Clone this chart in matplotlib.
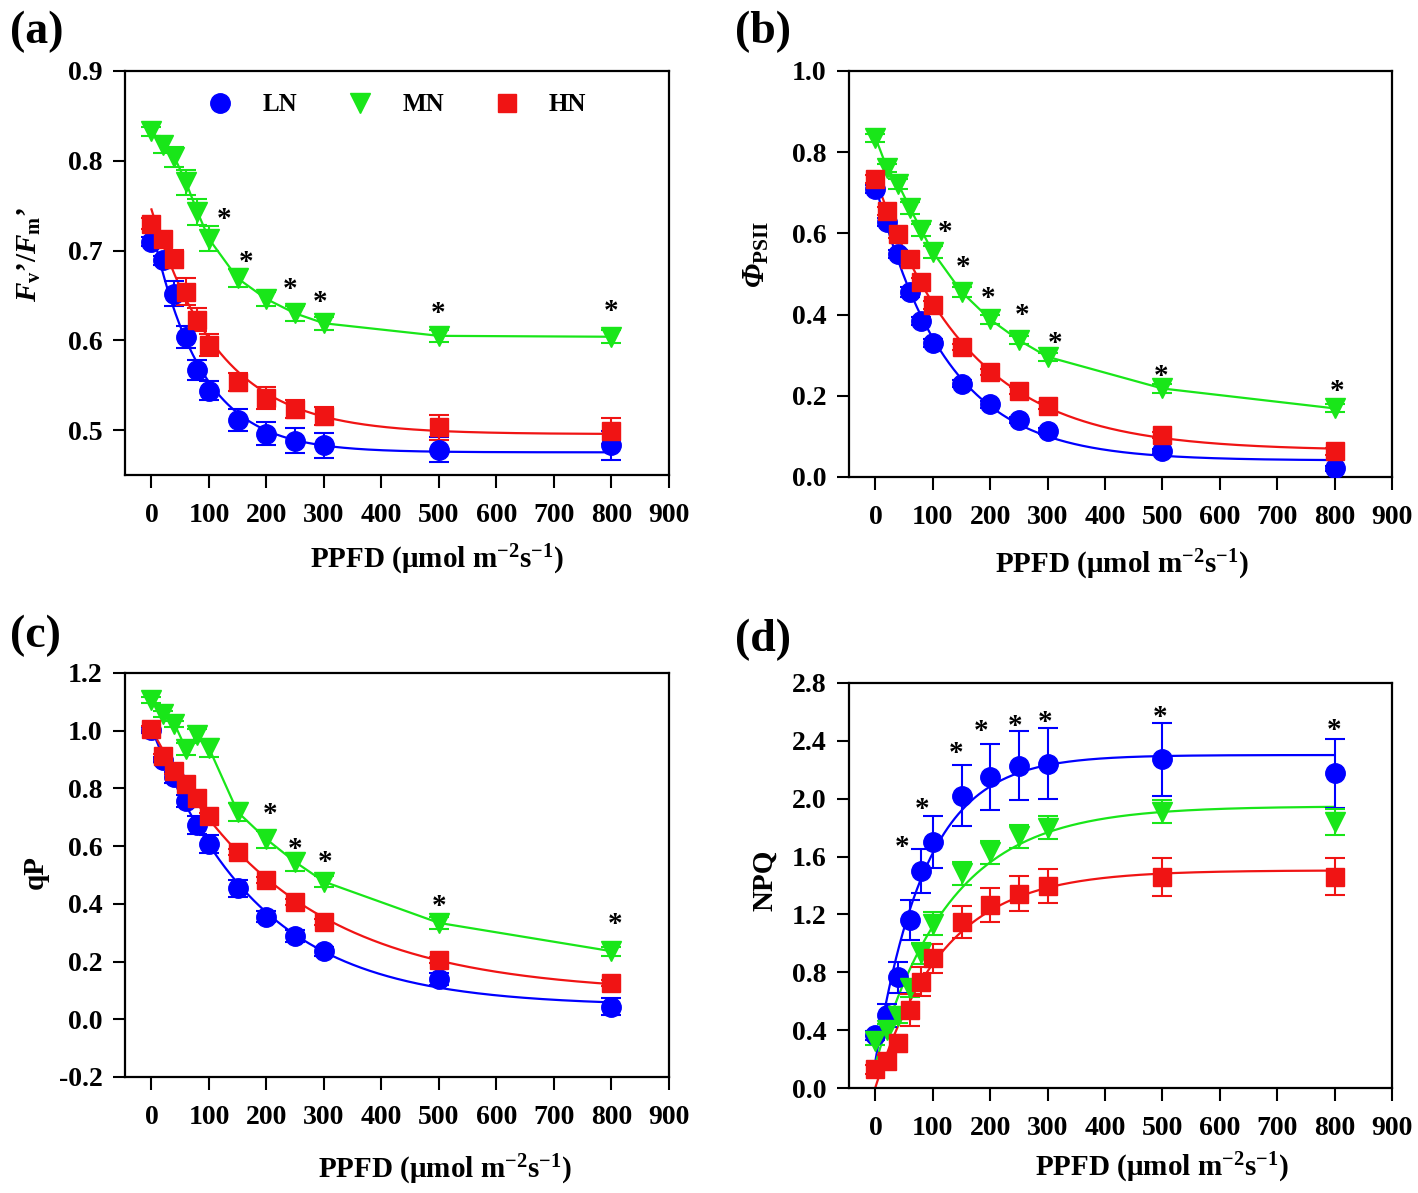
import numpy as np
import matplotlib
matplotlib.use("Agg")
import matplotlib.pyplot as plt
from matplotlib.lines import Line2D

plt.rcParams["font.family"] = ["Liberation Serif", "DejaVu Serif"]
plt.rcParams["font.weight"] = "bold"
plt.rcParams["axes.labelweight"] = "bold"
plt.rcParams["mathtext.fontset"] = "custom"
plt.rcParams["mathtext.rm"] = "Liberation Serif:bold"
plt.rcParams["mathtext.bf"] = "Liberation Serif:bold"
plt.rcParams["mathtext.it"] = "Liberation Serif:italic:bold"
plt.rcParams["mathtext.default"] = "regular"

# PPFD levels (umol m-2 s-1)
ppfd = np.array([0, 20, 40, 60, 80, 100, 150, 200, 250, 300, 500, 800])

# (a) Fv'/Fm'
fvfm_ln = [0.710, 0.689, 0.652, 0.604, 0.567, 0.544, 0.511, 0.496, 0.488, 0.483, 0.478, 0.483]
fvfm_mn = [0.833, 0.818, 0.804, 0.776, 0.743, 0.713, 0.669, 0.646, 0.630, 0.619, 0.605, 0.604]
fvfm_hn = [0.730, 0.713, 0.691, 0.654, 0.623, 0.595, 0.554, 0.536, 0.524, 0.516, 0.503, 0.499]
fvfm_ln_err = [0.005, 0.005, 0.014, 0.012, 0.011, 0.011, 0.012, 0.013, 0.014, 0.014, 0.014, 0.016]
fvfm_mn_err = [0.005, 0.009, 0.011, 0.014, 0.014, 0.014, 0.010, 0.008, 0.008, 0.007, 0.007, 0.007]
fvfm_hn_err = [0.006, 0.007, 0.010, 0.015, 0.013, 0.012, 0.010, 0.012, 0.010, 0.010, 0.014, 0.014]
fvfm_star_x = [127, 164, 241, 294, 499, 800]
fvfm_star_y = [0.741, 0.693, 0.6635, 0.649, 0.636, 0.639]

# (b) PhiPSII
phi_ln = [0.710, 0.628, 0.550, 0.456, 0.384, 0.331, 0.230, 0.179, 0.140, 0.113, 0.063, 0.021]
phi_mn = [0.836, 0.762, 0.721, 0.663, 0.608, 0.554, 0.456, 0.388, 0.337, 0.296, 0.218, 0.169]
phi_hn = [0.735, 0.655, 0.598, 0.536, 0.480, 0.423, 0.320, 0.259, 0.213, 0.176, 0.104, 0.063]
phi_ln_err = [0.010, 0.010, 0.010, 0.012, 0.010, 0.010, 0.008, 0.008, 0.008, 0.008, 0.006, 0.006]
phi_mn_err = [0.010, 0.010, 0.012, 0.014, 0.014, 0.014, 0.012, 0.012, 0.010, 0.010, 0.010, 0.010]
phi_hn_err = [0.010, 0.010, 0.010, 0.010, 0.010, 0.010, 0.008, 0.008, 0.008, 0.008, 0.008, 0.008]
phi_star_x = [121, 153, 197, 255, 313, 497, 804]
phi_star_y = [0.616, 0.530, 0.453, 0.411, 0.343, 0.262, 0.225]

# (c) qP
qp_ln = [1.003, 0.900, 0.838, 0.757, 0.673, 0.607, 0.454, 0.356, 0.288, 0.236, 0.139, 0.044]
qp_mn = [1.106, 1.059, 1.024, 0.937, 0.985, 0.940, 0.718, 0.624, 0.545, 0.477, 0.334, 0.236]
qp_hn = [1.005, 0.911, 0.861, 0.816, 0.768, 0.705, 0.581, 0.484, 0.406, 0.338, 0.206, 0.126]
qp_ln_err = [0.010, 0.010, 0.020, 0.020, 0.030, 0.030, 0.030, 0.020, 0.020, 0.015, 0.020, 0.030]
qp_mn_err = [0.010, 0.010, 0.010, 0.020, 0.020, 0.030, 0.030, 0.030, 0.030, 0.020, 0.020, 0.015]
qp_hn_err = [0.010, 0.010, 0.010, 0.010, 0.010, 0.010, 0.010, 0.010, 0.010, 0.010, 0.010, 0.010]
qp_star_x = [206, 249, 302, 501, 806]
qp_star_y = [0.731, 0.607, 0.562, 0.412, 0.347]

# (d) NPQ
npq_ln = [0.365, 0.504, 0.764, 1.163, 1.497, 1.703, 2.022, 2.150, 2.228, 2.241, 2.272, 2.176]
npq_mn = [0.328, 0.400, 0.500, 0.688, 0.930, 1.137, 1.483, 1.630, 1.740, 1.800, 1.910, 1.840]
npq_hn = [0.129, 0.186, 0.309, 0.539, 0.735, 0.896, 1.149, 1.266, 1.344, 1.396, 1.460, 1.462]
npq_ln_err = [0.030, 0.080, 0.105, 0.140, 0.152, 0.180, 0.210, 0.228, 0.240, 0.245, 0.250, 0.240]
npq_mn_err = [0.030, 0.040, 0.050, 0.060, 0.070, 0.080, 0.080, 0.080, 0.080, 0.080, 0.080, 0.090]
npq_hn_err = [0.030, 0.040, 0.060, 0.110, 0.100, 0.100, 0.110, 0.120, 0.120, 0.120, 0.130, 0.130]
npq_star_x = [46, 81, 140, 185, 244, 296, 496, 800]
npq_star_y = [1.70, 1.966, 2.353, 2.501, 2.540, 2.566, 2.600, 2.514]

COLORS = {"LN": "#0000ff", "MN": "#19e619", "HN": "#f01414"}
MARKERS = {"LN": "o", "MN": "v", "HN": "s"}
SIZES = {"LN": 14, "MN": 14, "HN": 13}


def exp_fit(x, y):
    # least squares fit of y = c + a*exp(-k*x)
    x = np.asarray(x, float)
    y = np.asarray(y, float)
    best = None
    for k in np.linspace(0.001, 0.08, 800):
        A = np.column_stack([np.ones_like(x), np.exp(-k * x)])
        coef = np.linalg.lstsq(A, y, rcond=None)[0]
        sse = np.sum((A @ coef - y) ** 2)
        if best is None or sse < best[0]:
            best = (sse, k, coef)
    _, k, (c, a) = best
    xs = np.linspace(0, 800, 400)
    return xs, c + a * np.exp(-k * xs)


def draw_panel(ax, series, fitted, stars_x, stars_y, ylim, yticks, yfmt):
    for key, (vals, errs) in series.items():
        col = COLORS[key]
        if key in fitted:
            xs, ys = exp_fit(ppfd, vals)
            ax.plot(xs, ys, color=col, lw=1.6, zorder=2)
        else:
            ax.plot(ppfd, vals, color=col, lw=1.6, zorder=2)
        ax.errorbar(ppfd, vals, yerr=errs, fmt=MARKERS[key], color=col,
                    ms=SIZES[key], mec=col, ecolor=col, elinewidth=1.5,
                    capsize=7, capthick=1.5, zorder=3)
    for sx, sy in zip(stars_x, stars_y):
        ax.annotate("*", (sx, sy), xytext=(0, -9.5), textcoords="offset points",
                    ha="center", va="baseline", fontsize=21, fontweight="bold")
    ax.set_xlim(-46, 900)
    ax.set_ylim(*ylim)
    ax.set_xticks(np.arange(0, 901, 100))
    ax.set_yticks(yticks)
    ax.set_yticklabels([yfmt.format(v) for v in yticks])
    ax.tick_params(axis="both", direction="out", length=9, width=1.5,
                   labelsize=20, top=False, right=False)
    ax.tick_params(axis="x", pad=11)
    ax.tick_params(axis="y", pad=7)
    for sp in ax.spines.values():
        sp.set_linewidth(1.6)


fig = plt.figure(figsize=(14.18, 11.93), dpi=100)
W, H = 1418, 1193


def axes_px(left, right, top, bottom):
    return fig.add_axes([left / W, 1 - bottom / H, (right - left) / W, (bottom - top) / H])


xlabel = "PPFD (\u03bcmol m$^{-2}$s$^{-1}$)"

# (a)
ax = axes_px(125, 669, 71, 475)
draw_panel(ax, {"LN": (fvfm_ln, fvfm_ln_err), "MN": (fvfm_mn, fvfm_mn_err),
                "HN": (fvfm_hn, fvfm_hn_err)},
           ["LN", "HN"], fvfm_star_x, fvfm_star_y, (0.45, 0.9),
           [0.5, 0.6, 0.7, 0.8, 0.9], "{:.1f}")
ax.set_ylabel("$\\mathit{F}_{\\mathrm{v}}$\u2019/$\\mathit{F}_{\\mathrm{m}}$\u2019",
              fontsize=21, va="center")
ax.yaxis.set_label_coords(-0.175, 0.545)
ax.set_xlabel(xlabel, fontsize=21, va="center")
ax.xaxis.set_label_coords(0.574, -0.21)
handles = [Line2D([], [], ls="none", marker=MARKERS[k], color=COLORS[k],
                  ms=SIZES[k]) for k in ["LN", "MN", "HN"]]
ax.legend(handles, ["LN", "MN", "HN"], ncol=3, frameon=False, loc="center",
          bbox_to_anchor=(0.5, 0.916), prop={"size": 18, "weight": "bold"},
          handlelength=1.0, handletextpad=1.2, columnspacing=2.0, numpoints=1)

# (b)
ax = axes_px(849, 1392, 71, 477)
draw_panel(ax, {"LN": (phi_ln, phi_ln_err), "MN": (phi_mn, phi_mn_err),
                "HN": (phi_hn, phi_hn_err)},
           ["LN", "HN"], phi_star_x, phi_star_y, (0.0, 1.0),
           [0.0, 0.2, 0.4, 0.6, 0.8, 1.0], "{:.1f}")
ax.set_ylabel("\u03a6$_{\\mathrm{PSII}}$", fontsize=22, va="center",
              fontstyle="italic")
ax.yaxis.set_label_coords(-0.169, 0.547)
ax.set_xlabel(xlabel, fontsize=21, va="center")
ax.xaxis.set_label_coords(0.503, -0.217)

# (c)
ax = axes_px(125, 669, 673, 1077)
draw_panel(ax, {"LN": (qp_ln, qp_ln_err), "MN": (qp_mn, qp_mn_err),
                "HN": (qp_hn, qp_hn_err)},
           ["LN", "HN"], qp_star_x, qp_star_y, (-0.2, 1.2),
           [-0.2, 0.0, 0.2, 0.4, 0.6, 0.8, 1.0, 1.2], "{:.1f}")
ax.set_ylabel("qP", fontsize=21, va="center")
ax.yaxis.set_label_coords(-0.165, 0.507)
ax.set_xlabel(xlabel, fontsize=21, va="center")
ax.xaxis.set_label_coords(0.588, -0.23)

# (d)
ax = axes_px(849, 1392, 683, 1088)
draw_panel(ax, {"LN": (npq_ln, npq_ln_err), "MN": (npq_mn, npq_mn_err),
                "HN": (npq_hn, npq_hn_err)},
           ["LN", "MN", "HN"], npq_star_x, npq_star_y, (0.0, 2.8),
           [0.0, 0.4, 0.8, 1.2, 1.6, 2.0, 2.4, 2.8], "{:.1f}")
ax.set_ylabel("NPQ", fontsize=21, va="center")
ax.yaxis.set_label_coords(-0.155, 0.514)
ax.set_xlabel(xlabel, fontsize=21, va="center")
ax.xaxis.set_label_coords(0.576, -0.198)

for lab, px, py in [("(a)", 10, 32), ("(b)", 735, 32), ("(c)", 10, 636), ("(d)", 735, 640)]:
    fig.text(px / W, 1 - py / H, lab, fontsize=33, fontweight="bold",
             ha="left", va="center")

fig.savefig("out.png", dpi=100)
